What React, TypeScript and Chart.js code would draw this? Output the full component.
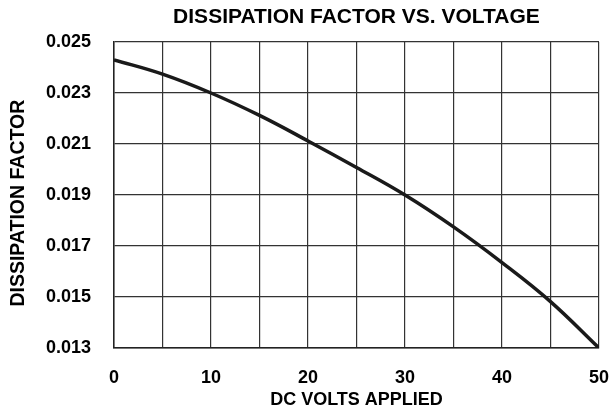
import React, { useEffect, useRef } from "react";
import { Chart, registerables } from "chart.js";

Chart.register(...registerables);

const volts = [0, 5, 10, 15, 20, 25, 30, 35, 40, 45, 50];
const dissipation = [0.0243, 0.02374, 0.023, 0.02212, 0.02112, 0.02008, 0.019, 0.01775, 0.01635, 0.01482, 0.013];
const chartTitle = "DISSIPATION FACTOR VS. VOLTAGE";
const xTitle = "DC VOLTS APPLIED";
const yTitle = "DISSIPATION FACTOR";

const FONT = "'Liberation Sans', Arial, Helvetica, sans-serif";

export default function App() {
  const ref = useRef<HTMLCanvasElement | null>(null);

  useEffect(() => {
    if (!ref.current) return;
    const chart = new Chart(ref.current, {
      type: "line",
      data: {
        datasets: [
          {
            data: volts.map((v, i) => ({ x: v, y: dissipation[i] })),
            borderColor: "#1a1a1a",
            borderWidth: 3.5,
            pointRadius: 0,
            tension: 0.4,
            fill: false,
          },
        ],
      },
      options: {
        responsive: false,
        animation: false,
        layout: { padding: { left: 0, right: 13, top: 0, bottom: 0 } },
        plugins: {
          legend: { display: false },
          tooltip: { enabled: false },
          title: {
            display: true,
            fullSize: false,
            text: chartTitle,
            color: "#000",
            font: { family: FONT, size: 21, weight: "bold" },
            padding: { top: 5, bottom: 11.8 },
          },
        },
        scales: {
          x: {
            type: "linear",
            min: 0,
            max: 50,
            afterFit: (s: any) => {
              s.height = 63;
              s.paddingLeft = 0;
              s.paddingRight = 0;
            },
            ticks: {
              stepSize: 5,
              color: "#000",
              padding: 19,
              maxRotation: 0,
              autoSkip: false,
              font: { family: FONT, size: 18, weight: "bold" },
              callback: (v: any) => (Number(v) % 10 === 0 ? String(v) : ""),
            },
            grid: { color: "#333", lineWidth: 1.2, drawTicks: false },
            border: { color: "#222", width: 1.5 },
            title: {
              display: true,
              text: xTitle,
              color: "#000",
              font: { family: FONT, size: 18, weight: "bold" },
              padding: { top: 0, bottom: 0 },
            },
          },
          y: {
            type: "linear",
            min: 0.013,
            max: 0.025,
            afterFit: (s: any) => {
              s.width = 114;
              s.paddingTop = 0;
              s.paddingBottom = 0;
            },
            ticks: {
              stepSize: 0.002,
              color: "#000",
              padding: 23,
              font: { family: FONT, size: 18, weight: "bold" },
              callback: (v: any) => Number(v).toFixed(3),
            },
            grid: { color: "#333", lineWidth: 1.2, drawTicks: false },
            border: { color: "#222", width: 1.5 },
            title: {
              display: true,
              text: yTitle + "   ",
              color: "#000",
              font: { family: FONT, size: 19.5, weight: "bold" },
              padding: { top: 7, bottom: 0 },
            },
          },
        },
      },
    });
    return () => chart.destroy();
  }, []);

  return (
    <div style={{ position: "fixed", left: 0, top: 0, width: 612, height: 411, background: "#fff" }}>
      <canvas ref={ref} width={612} height={411} style={{ display: "block", width: 612, height: 411 }} />
    </div>
  );
}
